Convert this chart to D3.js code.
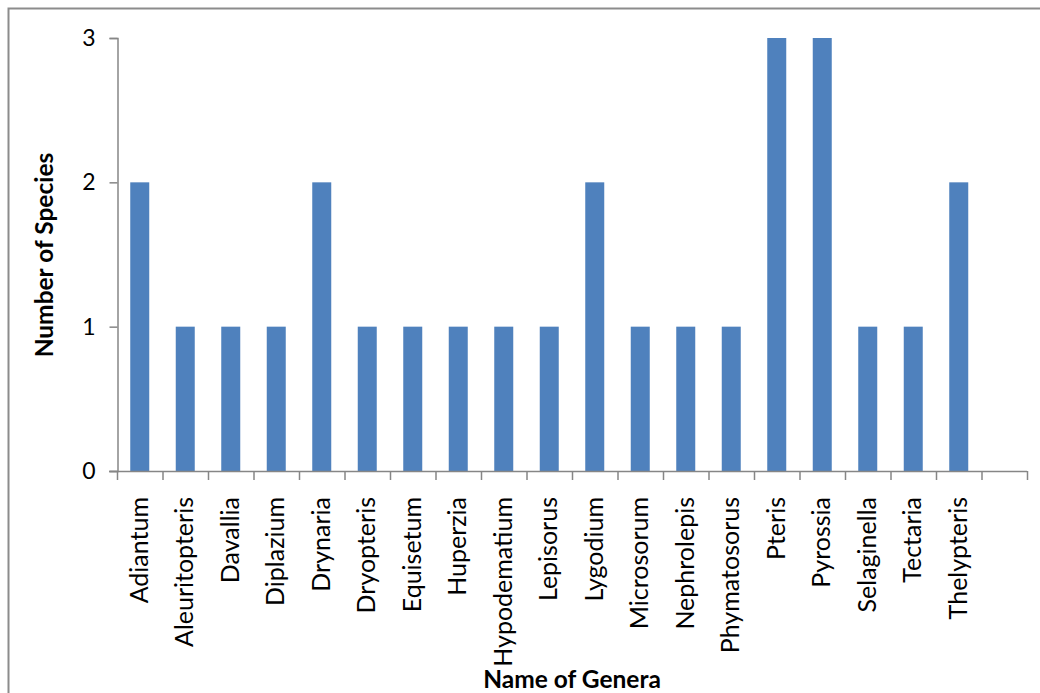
<!DOCTYPE html>
<html>
<head>
<meta charset="utf-8">
<script src="https://cdn.jsdelivr.net/npm/d3@7"></script>
<style>
  body { margin: 0; background: #fff; }
  text { font-family: Lato, "Open Sans", sans-serif; fill: #000; }
</style>
</head>
<body>
<script>
var genera = ["Adiantum", "Aleuritopteris", "Davallia", "Diplazium", "Drynaria",
              "Dryopteris", "Equisetum", "Huperzia", "Hypodematium", "Lepisorus",
              "Lygodium", "Microsorum", "Nephrolepis", "Phymatosorus", "Pteris",
              "Pyrossia", "Selaginella", "Tectaria", "Thelypteris", ""];
var species = [2, 1, 1, 1, 2, 1, 1, 1, 1, 1, 2, 1, 1, 1, 3, 3, 1, 1, 2, null];
var yTicks = [0, 1, 2, 3];

var width = 1040,
    height = 693;

var svg = d3.select("body")
            .append("svg")
            .attr("width", width)
            .attr("height", height);

// outer chart frame
svg.append("rect")
   .attr("x", 8.5)
   .attr("y", 8.5)
   .attr("width", 1100)
   .attr("height", 800)
   .attr("fill", "none")
   .attr("stroke", "#8c8c8c")
   .attr("stroke-width", 2);

var x = d3.scaleBand()
          .domain(d3.range(genera.length))
          .range([117, 1027]);

var y = d3.scaleLinear()
          .domain([0, 3])
          .range([471, 38]);

var barW = 19;

svg.selectAll("rect.bar")
   .data(species.map(function(v, i){ return {i: i, v: v}; }).filter(function(d){ return d.v != null; }))
   .enter()
   .append("rect")
   .attr("class", "bar")
   .attr("x", function(d){ return x(d.i) + x.bandwidth()/2 - barW/2; })
   .attr("y", function(d){ return y(d.v); })
   .attr("width", barW)
   .attr("height", function(d){ return y(0) - y(d.v); })
   .attr("fill", "#4f81bd");

// y axis
var yAxis = svg.append("g")
               .attr("transform", "translate(117.5,0)")
               .call(d3.axisLeft(y).tickValues(yTicks).tickFormat(d3.format("d")).tickSize(8).tickPadding(14));
yAxis.select(".domain").attr("stroke", "#868686").attr("stroke-width", 1.5);
yAxis.selectAll(".tick line").attr("stroke", "#868686").attr("stroke-width", 1.5);
yAxis.selectAll(".tick text").attr("font-size", 23).attr("fill", "#000");

// x axis: ticks at band boundaries
var gx = svg.append("g");
gx.append("line")
  .attr("x1", 109).attr("x2", 1027)
  .attr("y1", y(0) + 0.5).attr("y2", y(0) + 0.5)
  .attr("stroke", "#868686").attr("stroke-width", 1.5);
gx.selectAll("line.tk")
  .data(d3.range(genera.length + 1))
  .enter()
  .append("line")
  .attr("class", "tk")
  .attr("x1", function(i){ return (i < genera.length ? x(i) : x.range()[1]) + 0.5; })
  .attr("x2", function(i){ return (i < genera.length ? x(i) : x.range()[1]) + 0.5; })
  .attr("y1", y(0))
  .attr("y2", y(0) + 9)
  .attr("stroke", "#868686").attr("stroke-width", 1.5);

gx.selectAll("text.lbl")
  .data(genera)
  .enter()
  .append("text")
  .attr("class", "lbl")
  .attr("text-anchor", "end")
  .attr("font-size", 25)
  .attr("transform", function(d, i){
      return "translate(" + (x(i) + x.bandwidth()/2 + 8) + "," + 497 + ") rotate(-90)";
  })
  .text(function(d){ return d; });

// axis titles
svg.append("text")
   .attr("text-anchor", "middle")
   .attr("font-weight", "bold")
   .attr("font-size", 24.5)
   .attr("x", 572)
   .attr("y", 688)
   .text("Name of Genera");

svg.append("text")
   .attr("text-anchor", "middle")
   .attr("font-weight", "bold")
   .attr("font-size", 24.5)
   .attr("transform", "translate(53,255) rotate(-90)")
   .text("Number of Species");
</script>
</body>
</html>
